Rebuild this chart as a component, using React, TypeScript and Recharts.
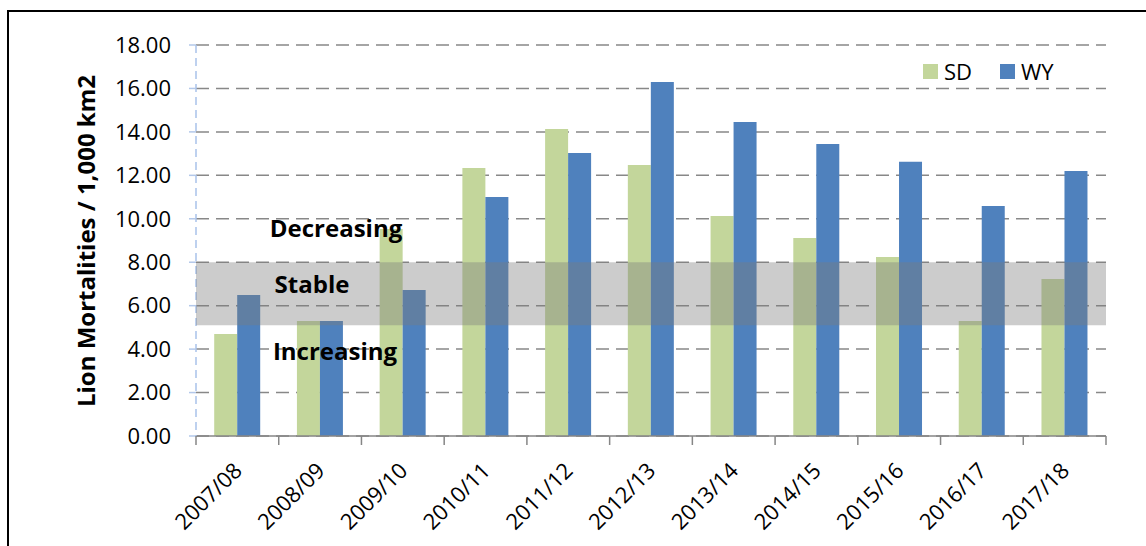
import { BarChart, Bar, XAxis, YAxis, CartesianGrid, ReferenceArea } from "recharts";

const seasons = ["2007/08", "2008/09", "2009/10", "2010/11", "2011/12", "2012/13", "2013/14", "2014/15", "2015/16", "2016/17", "2017/18"];
const sdValues = [4.7, 5.29, 9.53, 12.34, 14.13, 12.48, 10.13, 9.12, 8.24, 5.29, 7.23];
const wyValues = [6.49, 5.29, 6.72, 11.0, 13.03, 16.3, 14.46, 13.44, 12.62, 10.59, 12.2];
const yTicks = [0, 2, 4, 6, 8, 10, 12, 14, 16, 18];
const stableBand = { low: 5.1, high: 8.0 };

const FONT = "'Open Sans', sans-serif";
const SD_COLOR = "#c3d69b";
const WY_COLOR = "#4f81bd";
const PLOT_LEFT = 196;
const PLOT_RIGHT = 1106;
const CAT_W = (PLOT_RIGHT - PLOT_LEFT) / seasons.length;

const data = seasons.map((season, i) => ({ season, SD: sdValues[i], WY: wyValues[i] }));

function SeasonTick(props: any) {
  const { x, y, payload, index } = props;
  const left = x - CAT_W / 2;
  return (
    <g>
      <line x1={left} x2={left} y1={y} y2={y + 9} stroke="#868686" strokeWidth={1.5} />
      {index === seasons.length - 1 && (
        <line x1={x + CAT_W / 2} x2={x + CAT_W / 2} y1={y} y2={y + 9} stroke="#868686" strokeWidth={1.5} />
      )}
      <text
        transform={`translate(${x + 6}, ${y + 36}) rotate(-45)`}
        textAnchor="end"
        fontSize={22}
        fontFamily={FONT}
        fill="#000"
      >
        {payload.value}
      </text>
    </g>
  );
}

function LegendBox() {
  const items = [
    { name: "SD", color: SD_COLOR },
    { name: "WY", color: WY_COLOR }
  ];
  return (
    <div style={{ position: "absolute", left: 923, top: 59, display: "flex", alignItems: "center", fontFamily: FONT, fontSize: 22, color: "#000" }}>
      {items.map((it) => (
        <div key={it.name} style={{ display: "flex", alignItems: "center", marginRight: 28 }}>
          <span style={{ width: 15, height: 15, background: it.color, display: "inline-block", marginRight: 6 }} />
          <span style={{ lineHeight: "24px" }}>{it.name}</span>
        </div>
      ))}
    </div>
  );
}

export default function App() {
  return (
    <div style={{ position: "absolute", left: 0, top: 0, width: 1146, height: 546, background: "#fff", overflow: "hidden" }}>
      <div style={{ position: "absolute", left: 7, top: 10, width: 1150, height: 550, borderLeft: "2px solid #000", borderTop: "2px solid #000" }} />
      <div style={{ position: "absolute", left: 0, top: 0 }}>
        <BarChart
          width={1146}
          height={546}
          data={data}
          margin={{ top: 45, right: 40, left: 0, bottom: 0 }}
          barCategoryGap="22%"
          barGap={0}
        >
          <CartesianGrid vertical={false} stroke="#888" strokeWidth={1.5} strokeDasharray="13 7" />
          <XAxis
            dataKey="season"
            height={110}
            axisLine={{ stroke: "#868686", strokeWidth: 1.5 }}
            tickLine={false}
            tickSize={0}
            tickMargin={0}
            interval={0}
            tick={<SeasonTick />}
          />
          <YAxis
            width={196}
            domain={[0, 18]}
            ticks={yTicks}
            interval={0}
            tickFormatter={(v: number) => v.toFixed(2)}
            axisLine={{ stroke: "#a9c2ea", strokeWidth: 1.5, strokeDasharray: "8 5" }}
            tickLine={{ stroke: "#b3c8ea", strokeWidth: 1.5 }}
            tickSize={7}
            tickMargin={18}
            tick={{ fill: "#000", fontSize: 22, fontFamily: FONT }}
          />
          <Bar dataKey="SD" fill={SD_COLOR} isAnimationActive={false} />
          <Bar dataKey="WY" fill={WY_COLOR} isAnimationActive={false} />
          <ReferenceArea
            y1={stableBand.low}
            y2={stableBand.high}
            fill="#7b7b7b"
            fillOpacity={0.39}
            stroke="none"
            zIndex={1000}
          />
        </BarChart>
      </div>
      <LegendBox />
      <svg width={1146} height={546} style={{ position: "absolute", left: 0, top: 0, pointerEvents: "none" }}>
        <text transform="translate(95, 241) rotate(-90)" textAnchor="middle" fontSize={24} fontWeight="bold" fontFamily={FONT} fill="#000">
          Lion Mortalities / 1,000 km2
        </text>
        <text x={336} y={237} textAnchor="middle" fontSize={24} fontWeight="bold" fontFamily={FONT} fill="#000">Decreasing</text>
        <text x={312} y={293} textAnchor="middle" fontSize={24} fontWeight="bold" fontFamily={FONT} fill="#000">Stable</text>
        <text x={335} y={360} textAnchor="middle" fontSize={24} fontWeight="bold" fontFamily={FONT} fill="#000">Increasing</text>
      </svg>
    </div>
  );
}
